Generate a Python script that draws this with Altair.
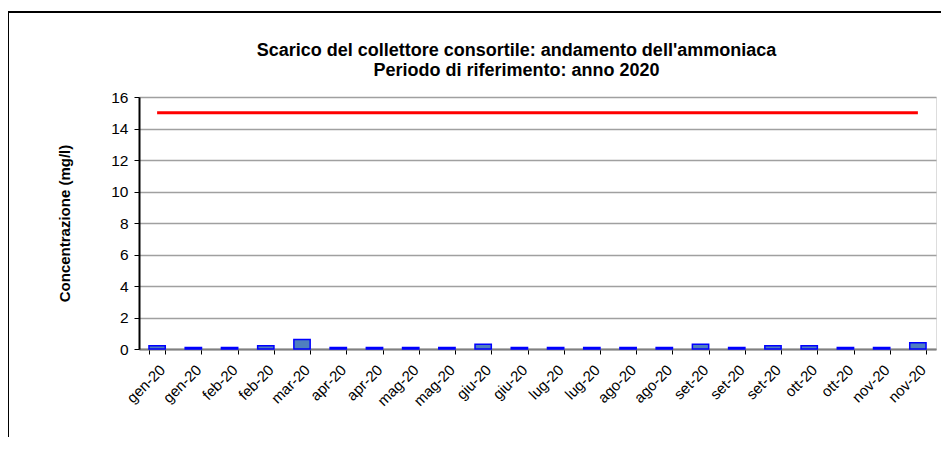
import altair as alt
import pandas as pd

labels = ["gen-20", "gen-20", "feb-20", "feb-20", "mar-20", "apr-20", "apr-20",
          "mag-20", "mag-20", "giu-20", "giu-20", "lug-20", "lug-20", "ago-20",
          "ago-20", "set-20", "set-20", "set-20", "ott-20", "ott-20", "nov-20", "nov-20"]
ammonia = [0.2, 0.1, 0.1, 0.2, 0.6, 0.1, 0.1, 0.1, 0.1, 0.3, 0.1,
           0.1, 0.1, 0.1, 0.1, 0.3, 0.1, 0.2, 0.2, 0.1, 0.1, 0.4]
limit = [15, 15, 15, 15, 15, 15, 15, 15, 15, 15, 15,
         15, 15, 15, 15, 15, 15, 15, 15, 15, 15, 15]
y_ticks = [0, 2, 4, 6, 8, 10, 12, 14, 16]

keys = [f"{lab}#{i}" for i, lab in enumerate(labels)]
df = pd.DataFrame({"key": keys, "label": labels, "val": ammonia, "limit": limit})

FONT = "Liberation Sans"

xscale = alt.Scale(paddingInner=0.55, paddingOuter=0.275)
yscale = alt.Scale(domain=[0, 16])

xaxis = alt.Axis(labelExpr="split(datum.label, '#')[0]", labelAngle=-45,
                 labelFontSize=15, labelFont=FONT, labelColor="#000",
                 tickBand="extent", tickSize=5, tickColor="#000",
                 domainColor="#808080", domainWidth=2, grid=False,
                 labelPadding=8, labelOverlap=False)
yaxis = alt.Axis(values=y_ticks, labelFontSize=15.5, labelFont=FONT,
                 labelColor="#000", titleFont=FONT, titleFontSize=15,
                 titleFontWeight="bold", titleColor="#000", titlePadding=38,
                 tickSize=5, tickColor="#000", domainColor="#000", domainWidth=2,
                 gridColor="#a0a0a0", gridWidth=1.5, labelPadding=6,
                 labelOverlap=False)

bars = alt.Chart(df).mark_bar(color="#4f7fbf", stroke="#0000ff", strokeWidth=1.5).encode(
    x=alt.X("key:N", sort=keys, title=None, scale=xscale, axis=xaxis),
    y=alt.Y("val:Q", title="Concentrazione (mg/l)", scale=yscale, axis=yaxis),
)

line = alt.Chart(df).mark_line(color="#ff0000", strokeWidth=3).encode(
    x=alt.X("key:N", sort=keys, title=None, scale=xscale, axis=xaxis),
    y=alt.Y("limit:Q", title="Concentrazione (mg/l)", scale=yscale, axis=yaxis),
)

# outer chart frame (decoration, drawn in pixel space relative to the plot area)
frame_top = alt.Chart(df).mark_rule(color="#000", strokeWidth=1.5, clip=False).encode(
    x=alt.value(-131), x2=alt.value(900), y=alt.value(-85))
frame_left = alt.Chart(df).mark_rule(color="#000", strokeWidth=1.5, clip=False).encode(
    x=alt.value(-131), y=alt.value(-85), y2=alt.value(400))

chart = alt.layer(bars, line, frame_top, frame_left).properties(
    width=797, height=252,
    title=alt.TitleParams(
        ["Scarico del collettore consortile: andamento dell'ammoniaca",
         "Periodo di riferimento: anno 2020"],
        font=FONT, fontSize=18, fontWeight="bold", color="#000",
        anchor="middle", frame="group", dx=-21, offset=-69, lineHeight=20),
    padding={"left": 131, "top": 89, "right": 5, "bottom": 88},
    autosize=alt.AutoSizeParams(type="none"),
).configure_view(stroke="#000", strokeWidth=2).configure(background="white")

chart.save("out.html", embed_options={"renderer": "svg", "actions": False})
